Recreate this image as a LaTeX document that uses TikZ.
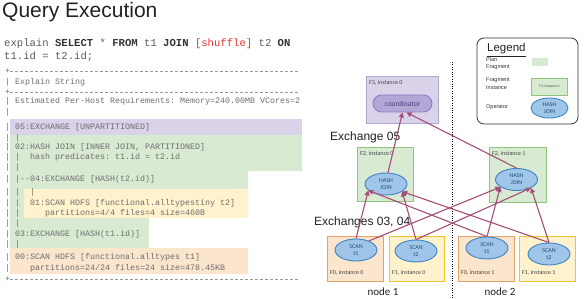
\documentclass[tikz,border=0pt]{standalone}
\usepackage{fontspec}
\setmainfont{Liberation Sans}
\setmonofont{Liberation Mono}
\newfontfamily\calfont{Carlito}
\usetikzlibrary{shapes.geometric,shapes.misc,arrows.meta}
\definecolor{fragpurple}{HTML}{D9D2E9}
\definecolor{purpborder}{HTML}{B4A7D6}
\definecolor{coordfill}{HTML}{B4A7D6}
\definecolor{coordborder}{HTML}{8E7CC3}
\definecolor{coordtext}{HTML}{4B3B7A}
\definecolor{fraggreen}{HTML}{D9EAD3}
\definecolor{greenborder}{HTML}{93C47D}
\definecolor{fragyellow}{HTML}{FFF2CC}
\definecolor{yellowborder}{HTML}{F1C232}
\definecolor{fragorange}{HTML}{FCE5CD}
\definecolor{orangeborder}{HTML}{E6A16B}
\definecolor{opfill}{HTML}{9FC5E8}
\definecolor{opborder}{HTML}{3D85C6}
\definecolor{optext}{HTML}{1F4E79}
\definecolor{flowc}{HTML}{A64D79}
\definecolor{codegray}{HTML}{5A5A5A}
\definecolor{codedark}{HTML}{333333}
\definecolor{expgray}{HTML}{6E6E6E}
\definecolor{sepgray}{HTML}{9A9A9A}
\definecolor{shred}{HTML}{E03030}
\definecolor{labelgray}{HTML}{444444}
\definecolor{titlec}{HTML}{222222}
\begin{document}
\begin{tikzpicture}[x=1pt,y=-1pt,
  exl/.style={anchor=west, inner sep=0pt, font=\ttfamily\fontsize{8.33}{10}\selectfont, text=expgray},
  sepline/.style={draw=sepgray, line width=0.6pt, dash pattern=on 2.8pt off 2.2pt},
  fragbox/.style={draw, line width=0.9pt, anchor=north west, inner sep=0pt},
  fraglabel/.style={anchor=north west, inner sep=0pt, font=\calfont\fontsize{6}{7}\selectfont, text=labelgray},
  opnode/.style={ellipse, draw=opborder, fill=opfill, line width=0.9pt, minimum width=42pt, minimum height=22pt, inner sep=0pt, align=center, font=\calfont\fontsize{6}{7}\selectfont, text=optext},
  flow/.style={draw=flowc, line width=1.1pt, -{Triangle[length=5pt,width=5pt]}},
  bigtext/.style={anchor=west, inner sep=0pt, font=\fontsize{12}{14}\selectfont, text=titlec},
  legtext/.style={anchor=north west, inner sep=0pt, align=left, font=\fontsize{5.5}{7.5}\selectfont, text=codedark},
]
\useasboundingbox (0,0) rectangle (584,299);

% ---------- title and query ----------
\node[anchor=base west, inner sep=0pt, font=\fontsize{21}{24}\selectfont, text=titlec] (title) at (2,18) {Query Execution};
\node[anchor=west, inner sep=0pt, font=\ttfamily\fontsize{10.6}{12}\selectfont, text=codegray] (code1) at (4,44)
  {explain \textcolor{codedark}{\textbf{SELECT}} * \textcolor{codedark}{\textbf{FROM}} t1 \textcolor{codedark}{\textbf{JOIN}} \textcolor{shred}{[shuffle]} t2 \textcolor{codedark}{\textbf{ON}}};
\node[anchor=west, inner sep=0pt, font=\ttfamily\fontsize{10.6}{12}\selectfont, text=codegray] (code2) at (4,57) {t1.id = t2.id;};

% ---------- explain backgrounds ----------
\fill[fragpurple] (10,119) rectangle (302,135);
\fill[fraggreen] (10,135) -- (302,135) -- (302,171) -- (248,171) -- (248,218) -- (149,218) -- (149,248) -- (10,248) -- cycle;
\fill[fragyellow] (24,189) rectangle (248,218);
\fill[fragorange] (10,248) rectangle (248,274);

% ---------- separators ----------
\node[exl] (plus1) at (5,71) {+};
\node[exl] (plus2) at (5,92) {+};
\node[exl] (plus3) at (5,279) {+};
\draw[sepline] (plus1.east) -- ++(290,0);
\draw[sepline] (plus2.east) -- ++(290,0);
\draw[sepline] (plus3.east) -- ++(290,0);

% ---------- explain text ----------
\node[exl] (e1) at (5,82) {| Explain String};
\node[exl] (e2) at (5,101) {| Estimated Per-Host Requirements: Memory=240.00MB VCores=2};
\node[exl] (e3) at (5,112) {|};
\node[exl] (e4) at (5,127) {| 05:EXCHANGE [UNPARTITIONED]};
\node[exl] (e5) at (5,138) {| |};
\node[exl] (e6) at (5,147) {| 02:HASH JOIN [INNER JOIN, PARTITIONED]};
\node[exl] (e7) at (5,157) {| |~~hash predicates: t1.id = t2.id};
\node[exl] (e8) at (5,167) {| |};
\node[exl] (e9) at (5,179) {| |-{}-04:EXCHANGE [HASH(t2.id)]};
\node[exl] (e10) at (5,192) {| |~~|};
\node[exl] (e11) at (5,203) {| |~~01:SCAN HDFS [functional.alltypestiny t2]};
\node[exl] (e12) at (5,213) {| |~~~~~partitions=4/4 files=4 size=460B};
\node[exl] (e13) at (5,223) {| |};
\node[exl] (e14) at (5,234) {| 03:EXCHANGE [HASH(t1.id)]};
\node[exl] (e15) at (5,244) {| |};
\node[exl] (e16) at (5,257) {| 00:SCAN HDFS [functional.alltypes t1]};
\node[exl] (e17) at (5,268) {|~~~~partitions=24/24 files=24 size=478.45KB};

% ---------- divider ----------
\coordinate (divtop) at (452,62);
\coordinate (divbot) at (452,299);
\draw[line width=0.8pt, dash pattern=on 1pt off 1.4pt] (divtop) -- (divbot);

% ---------- fragment boxes ----------
\node[fragbox, draw=purpborder, fill=fragpurple, minimum width=72pt, minimum height=47pt] (f3) at (366,76) {};
\node[fraglabel] (f3l) at (369,80) {F3, instance 0};
\node[rounded rectangle, draw=coordborder, fill=coordfill, line width=0.9pt, minimum width=59pt, minimum height=17pt, inner sep=0pt, font=\calfont\fontsize{7.5}{8}\selectfont, text=coordtext] (coord) at (402.5,103.5) {coordinator};

\node[fragbox, draw=greenborder, fill=fraggreen, minimum width=56pt, minimum height=54pt] (f2a) at (357,147) {};
\node[fraglabel] (f2al) at (360,151) {F2, instance 0};
\node[fragbox, draw=greenborder, fill=fraggreen, minimum width=57pt, minimum height=55pt] (f2b) at (489,147) {};
\node[fraglabel] (f2bl) at (492,151) {F2, instance 1};
\node[opnode] (hj0) at (386,184) {HASH\\JOIN};
\node[opnode] (hj1) at (516.5,179.5) {HASH\\JOIN};

\node[fragbox, draw=orangeborder, fill=fragorange, minimum width=56pt, minimum height=45pt] (f0a) at (327,236) {};
\node[fragbox, draw=yellowborder, fill=fragyellow, minimum width=55pt, minimum height=45pt] (f1a) at (389,236) {};
\node[fragbox, draw=orangeborder, fill=fragorange, minimum width=56pt, minimum height=45pt] (f0b) at (458,236) {};
\node[fragbox, draw=yellowborder, fill=fragyellow, minimum width=56pt, minimum height=45pt] (f1b) at (519,236) {};
\node[fraglabel] (f0al) at (330,270) {F0, instance 0};
\node[fraglabel] (f1al) at (392,270) {F1, instance 0};
\node[fraglabel] (f0bl) at (461,270) {F0, instance 1};
\node[fraglabel] (f1bl) at (522,270) {F1, instance 1};

\node[opnode] (s1a) at (356,250) {SCAN\\t1};
\node[opnode] (s2a) at (416,251) {SCAN\\t2};
\node[opnode] (s1b) at (487,248) {SCAN\\t1};
\node[opnode] (s2b) at (549,254) {SCAN\\t2};

\node[bigtext] (ex05) at (330,137) {Exchange 05};
\node[bigtext] (ex0304) at (314,222) {Exchanges 03, 04};
\node[inner sep=0pt, font=\calfont\fontsize{11}{12}\selectfont, text=titlec] (n1) at (383,292) {node 1};
\node[inner sep=0pt, font=\calfont\fontsize{11}{12}\selectfont, text=titlec] (n2) at (500,292) {node 2};

% ---------- data flow ----------
\draw[flow] (hj0.80) -- (coord.south);
\draw[flow] (hj1.north) -- ([xshift=4pt]coord.south);
\draw[flow] (s1a.north) -- (hj0.200);
\draw[flow] (s1a.35) -- (hj1.205);
\draw[flow] (s2a.north) -- (hj0.335);
\draw[flow] (s2a.north) -- (hj1.330);
\draw[flow] (s1b.north) -- (hj0.200);
\draw[flow] (s1b.north) -- (hj1.205);
\draw[flow] (s2b.north) -- (hj0.335);
\draw[flow] (s2b.north) -- (hj1.330);

% ---------- legend ----------
\draw[draw=codedark, line width=0.8pt, rounded corners=7pt] (477,38) rectangle (578,124);
\node[anchor=west, inner sep=0pt, font=\fontsize{11.5}{13}\selectfont, text=titlec] (legt) at (487,50) {\underline{Legend}};
\node[legtext] (leg1) at (486,57) {Plan\\Fragment};
\node[fill=fraggreen, minimum width=16pt, minimum height=8pt, inner sep=0pt, anchor=north west] (legbox1) at (532,58) {};
\node[legtext] (leg2) at (486,78) {Fragment\\Instance};
\node[fragbox, draw=greenborder, fill=fraggreen, minimum width=36pt, minimum height=17pt, line width=0.7pt, font=\calfont\fontsize{3.6}{4}\selectfont, text=labelgray] (legbox2) at (531,78) {F3, instance 0};
\node[legtext, anchor=west] (leg3) at (486,107) {Operator};
\node[opnode, minimum width=37pt, minimum height=20pt] (legop) at (549.5,108) {HASH\\JOIN};
\end{tikzpicture}
\end{document}
